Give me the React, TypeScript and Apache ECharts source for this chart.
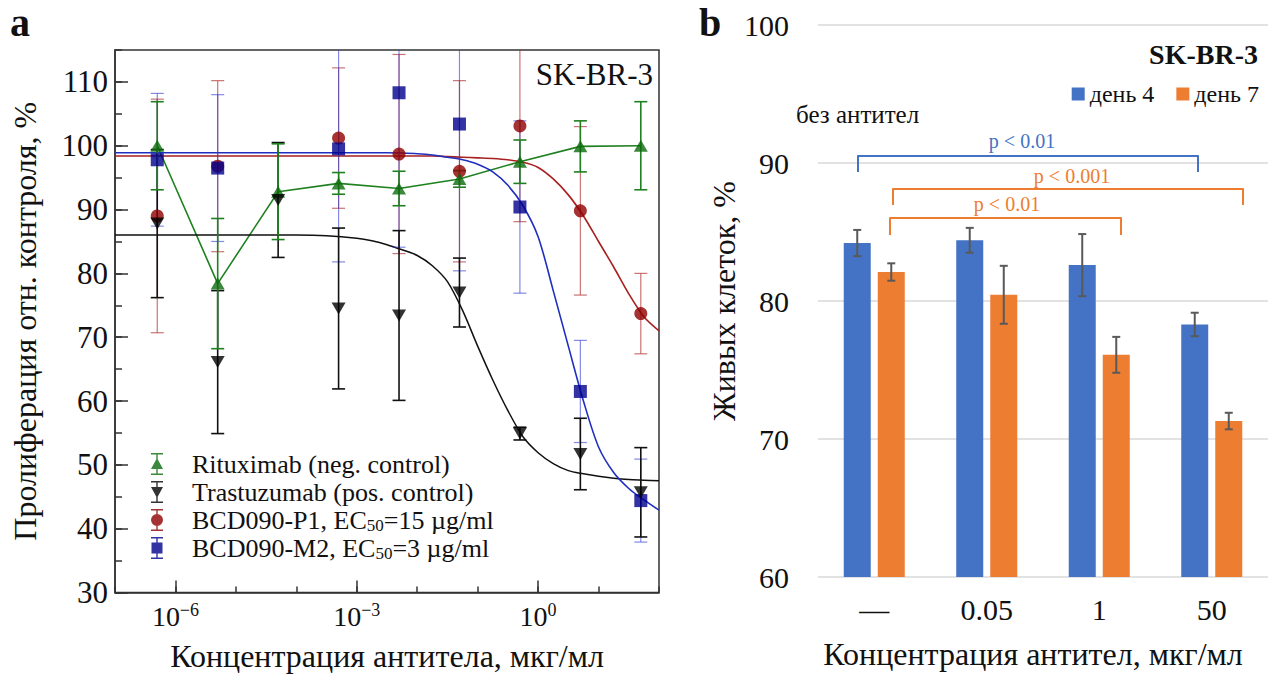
import React, { useEffect, useRef } from 'react';
import * as echarts from 'echarts';

// ---------- Panel a data ----------
const concentrations = [5e-7, 5e-6, 5e-5, 5e-4, 5e-3, 5e-2, 0.5, 5, 50];
const rituximabMean = [100.0, 78.4, 92.8, 94.1, 93.3, 94.8, 97.5, 99.9, 100.0];
const rituximabErr = [6.9, 10.2, 7.5, 1.7, 2.7, 1.3, 3.4, 4.0, 6.9];
const trastuzumabMean = [87.8, 66.1, 91.5, 74.5, 73.4, 77.0, 54.9, 51.7, 45.7];
const trastuzumabErr = [11.6, 11.2, 9.0, 12.6, 13.3, 5.4, 1.0, 5.6, 7.0];
const p1Mean = [89.0, 96.8, null, 101.2, 98.7, 96.0, 103.1, 89.8, 73.7];
const p1Err = [18.3, 13.4, null, 11.0, 15.6, 14.2, 15.0, 13.2, 6.3];
const m2Mean = [97.8, 96.5, null, 99.5, 108.3, 103.4, 90.4, 61.5, 44.4];
const m2Err = [10.4, 11.5, null, 17.7, 24.2, 23.0, 13.5, 8.0, 6.5];

// fitted curves (log10 of concentration, then values)
const fitLog = [
  -7, -6, -5, -4, -3.5, -3, -2.75, -2.5, -2.25, -2, -1.75, -1.5, -1.25,
  -1, -0.75, -0.5, -0.25, 0, 0.25, 0.5, 0.75, 1, 1.25, 1.5, 1.75, 2,
];
const trastuzumabFit = [
  86.0, 86.0, 86.0, 86.0, 85.9, 85.5, 85.1, 84.5, 83.7, 82.8, 81.2, 78.7, 74.2,
  68.6, 63.3, 58.5, 54.4, 51.9, 50.2, 49.1, 48.6, 48.2, 47.9, 47.7, 47.6, 47.5,
];
const p1Fit = [
  98.4, 98.4, 98.4, 98.4, 98.4, 98.4, 98.4, 98.4, 98.4, 98.4, 98.4, 98.3, 98.2,
  98.1, 98.0, 97.8, 97.4, 96.6, 94.8, 92.3, 89.0, 85.0, 81.0, 76.8, 73.2, 71.0,
];
const m2Fit = [
  98.9, 98.9, 98.9, 98.9, 98.9, 98.9, 98.9, 98.9, 98.85, 98.75, 98.55, 98.2, 97.8,
  97.1, 95.9, 93.8, 90.6, 85.75, 77.3, 68.6, 60.0, 52.8, 48.8, 46.3, 44.5, 42.9,
];
const fitConc = fitLog.map((l) => Math.pow(10, l));

const xMajorTicks = [1e-6, 1e-3, 1];

const NAME_R = 'Rituximab (neg. control)';
const NAME_T = 'Trastuzumab (pos. control)';
const NAME_P1 = 'BCD090-P1, EC50=15 µg/ml';
const NAME_M2 = 'BCD090-M2, EC50=3 µg/ml';

// ---------- Panel b data ----------
const bCategories = ['—', '0.05', '1', '50'];
const day4 = [84.2, 84.4, 82.6, 78.3];
const day4Err = [0.95, 0.9, 2.25, 0.85];
const day7 = [82.1, 80.45, 76.1, 71.3];
const day7Err = [0.63, 2.1, 1.3, 0.6];

const SERIF = '"Liberation Serif", "Times New Roman", serif';
const Y_MIN_A = 30;
const Y_MAX_A = 115;

const C_GREEN = '#0b6a0b';
const C_GREEN_LINE = '#1f801f';
const C_RED = '#8e0000';
const C_RED_LINE = '#a82020';
const C_RED_ERR = 'rgba(175,40,40,0.65)';
const C_BLUE = '#00008c';
const C_BLUE_LINE = '#1f2fbf';
const C_BLUE_ERR = 'rgba(50,60,210,0.6)';
const C_DAY4 = '#4472C4';
const C_DAY7 = '#ED7D31';

function pairs(xs: number[], ys: (number | null)[]) {
  const out: number[][] = [];
  xs.forEach((x, i) => {
    const y = ys[i];
    if (y != null) out.push([x, y]);
  });
  return out;
}
function errData(xs: number[], ys: (number | null)[], es: (number | null)[]) {
  const out: number[][] = [];
  xs.forEach((x, i) => {
    const y = ys[i];
    const e = es[i];
    if (y != null && e != null) out.push([x, y - e, y + e]);
  });
  return out;
}

function makeErrorRender(color: string, lineWidth: number, capWidth: number) {
  return (params: any, api: any) => {
    const x = api.value(0);
    const lo = api.value(1);
    const hi = api.value(2);
    const top = api.coord([x, Math.min(hi, Y_MAX_A)]);
    const bot = api.coord([x, Math.max(lo, Y_MIN_A)]);
    const st = { stroke: color, lineWidth };
    const children: any[] = [
      { type: 'line', shape: { x1: top[0], y1: top[1], x2: bot[0], y2: bot[1] }, style: st },
    ];
    if (lo >= Y_MIN_A)
      children.push({ type: 'line', shape: { x1: bot[0] - capWidth / 2, y1: bot[1], x2: bot[0] + capWidth / 2, y2: bot[1] }, style: st });
    if (hi <= Y_MAX_A)
      children.push({ type: 'line', shape: { x1: top[0] - capWidth / 2, y1: top[1], x2: top[0] + capWidth / 2, y2: top[1] }, style: st });
    return { type: 'group', children };
  };
}

const renderBarErr = (params: any, api: any) => {
  const cat = api.value(0);
  const lo = api.value(1);
  const hi = api.value(2);
  const side = api.value(3);
  const band = api.size([1, 0])[0];
  const off = (side * band * 0.24 * 1.26) / 2;
  const t = api.coord([cat, hi]);
  const b = api.coord([cat, lo]);
  const x = t[0] + off;
  const st = { stroke: '#595959', lineWidth: 2 };
  return {
    type: 'group',
    children: [
      { type: 'line', shape: { x1: x, y1: t[1], x2: x, y2: b[1] }, style: st },
      { type: 'line', shape: { x1: x - 4, y1: t[1], x2: x + 4, y2: t[1] }, style: st },
      { type: 'line', shape: { x1: x - 4, y1: b[1], x2: x + 4, y2: b[1] }, style: st },
    ],
  };
};

const legendRich: Record<string, string> = {
  [NAME_R]: `{f|${NAME_R}}`,
  [NAME_T]: `{f|${NAME_T}}`,
  [NAME_P1]: '{f|BCD090-P1, EC}{s|50}{n|=15 µg/ml}',
  [NAME_M2]: '{f|BCD090-M2, EC}{s|50}{n|=3 µg/ml}',
};

const ICON_UP = 'path://M5.3,0h1.4v22h-1.4z M0,0h12v1.5h-12z M0,20.5h12v1.5h-12z M0,16L6,5L12,16z';
const ICON_DOWN = 'path://M5.3,0h1.4v22h-1.4z M0,0h12v1.5h-12z M0,20.5h12v1.5h-12z M0,6L12,6L6,17z';
const ICON_CIRCLE = 'path://M5.3,0h1.4v22h-1.4z M0,0h12v1.5h-12z M0,20.5h12v1.5h-12z M0,11A6,6 0 1,1 12,11A6,6 0 1,1 0,11z';
const ICON_SQUARE = 'path://M5.3,0h1.4v22h-1.4z M0,0h12v1.5h-12z M0,20.5h12v1.5h-12z M0.5,5.5h11v11h-11z';

function bracket(x1: number, x2: number, yH: number, yLeg: number, color: string) {
  return {
    type: 'polyline',
    shape: { points: [[x1, yLeg], [x1, yH], [x2, yH], [x2, yLeg]] },
    style: { stroke: color, lineWidth: 2, fill: 'none', lineJoin: 'round' },
    z: 10,
  };
}
function gText(text: string, x: number, y: number, size: number, opts: any = {}) {
  return {
    type: 'text',
    x,
    y,
    z: 10,
    style: {
      text,
      fontSize: size,
      fontFamily: SERIF,
      fill: opts.fill || '#111',
      fontWeight: opts.bold ? 'bold' : 'normal',
      align: opts.align || 'left',
      verticalAlign: 'middle',
    },
  };
}

const axisFont = { fontFamily: SERIF, color: '#111' };

const option: any = {
  animation: false,
  backgroundColor: '#ffffff',
  grid: [
    { left: 115, top: 50, width: 544, height: 542.5, show: true, borderColor: '#333', borderWidth: 1.5, backgroundColor: 'transparent' },
    { left: 818, top: 25, width: 450, height: 552, show: false },
  ],
  xAxis: [
    {
      type: 'log', gridIndex: 0, logBase: 10, min: 1e-7, max: 100, position: 'bottom',
      name: 'Концентрация антитела, мкг/мл', nameLocation: 'middle', nameGap: 47,
      nameTextStyle: { ...axisFont, fontSize: 32 },
      axisLine: { show: true, lineStyle: { color: '#333', width: 1.5 } },
      axisTick: { show: true, inside: true, length: 6, lineStyle: { color: '#333', width: 1.5 } },
      splitLine: { show: false },
      minorTick: { show: false },
      axisLabel: {
        margin: 8,
        ...axisFont,
        fontSize: 28,
        formatter: (v: number) => {
          const e = Math.round(Math.log10(v));
          if (e % 3 !== 0) return '';
          const s = e < 0 ? '−' + -e : String(e);
          return `{b|10}{s|${s}}`;
        },
        rich: {
          b: { ...axisFont, fontSize: 28, lineHeight: 32 },
          s: { ...axisFont, fontSize: 18, lineHeight: 14, verticalAlign: 'top' },
        },
      },
    },
    {
      type: 'log', gridIndex: 0, logBase: 10, min: 1e-7, max: 100, position: 'bottom',
      axisLine: { show: false },
      axisTick: { show: true, inside: true, length: 12, customValues: xMajorTicks, lineStyle: { color: '#333', width: 1.5 } },
      axisLabel: { show: false },
      splitLine: { show: false },
    },
    {
      type: 'category', gridIndex: 1, data: bCategories,
      name: 'Концентрация антител, мкг/мл', nameLocation: 'middle', nameGap: 61,
      nameTextStyle: { ...axisFont, fontSize: 32, padding: [0, 20, 0, 0] },
      axisLine: { show: false },
      axisTick: { show: false },
      axisLabel: { ...axisFont, fontSize: 30, margin: 17 },
    },
  ],
  yAxis: [
    {
      type: 'value', gridIndex: 0, min: Y_MIN_A, max: Y_MAX_A, interval: 10, position: 'left',
      name: 'Пролиферация отн. контроля, %', nameLocation: 'middle', nameGap: 74,
      nameTextStyle: { ...axisFont, fontSize: 32 },
      axisLine: { show: true, lineStyle: { color: '#333', width: 1.5 } },
      axisTick: { show: true, inside: true, length: 13, lineStyle: { color: '#333', width: 1.5 } },
      splitLine: { show: false },
      axisLabel: {
        ...axisFont, fontSize: 31, margin: 7, showMaxLabel: false,
        formatter: (v: number) => (v > 110 ? '' : String(v)),
      },
    },
    {
      type: 'value', gridIndex: 0, min: Y_MIN_A, max: Y_MAX_A, interval: 5, position: 'left',
      axisLine: { show: false },
      axisTick: { show: true, inside: true, length: 7, lineStyle: { color: '#333', width: 1.5 } },
      axisLabel: { show: false },
      splitLine: { show: false },
    },
    {
      type: 'value', gridIndex: 1, min: 60, max: 100, interval: 10,
      name: 'Живых клеток, %', nameLocation: 'middle', nameGap: 72,
      nameTextStyle: { ...axisFont, fontSize: 32 },
      axisLine: { show: false },
      axisTick: { show: false },
      splitLine: { show: true, lineStyle: { color: '#d9d9d9', width: 1.5 } },
      axisLabel: { ...axisFont, fontSize: 30, margin: 29 },
    },
  ],
  legend: [
    {
      orient: 'vertical', left: 146, top: 445, itemGap: 0, itemWidth: 12, itemHeight: 22,
      symbolRotate: 0,
      data: [
        { name: NAME_R, icon: ICON_UP },
        { name: NAME_T, icon: ICON_DOWN },
        { name: NAME_P1, icon: ICON_CIRCLE },
        { name: NAME_M2, icon: ICON_SQUARE },
      ],
      formatter: (name: string) => legendRich[name] || `{f|${name}}`,
      textStyle: {
        ...axisFont, fontSize: 26, lineHeight: 28,
        rich: {
          f: { ...axisFont, fontSize: 26, lineHeight: 28, padding: [0, 0, 0, 24] },
          n: { ...axisFont, fontSize: 26, lineHeight: 28 },
          s: { ...axisFont, fontSize: 17, lineHeight: 12, verticalAlign: 'bottom' },
        },
      },
    },
    {
      orient: 'horizontal', right: 14, top: 77, itemGap: 22, itemWidth: 13, itemHeight: 13,
      icon: 'rect',
      data: ['день 4', 'день 7'],
      textStyle: { ...axisFont, fontSize: 24 },
    },
  ],
  graphic: [
    gText('a', 10, 22, 40, { bold: true }),
    gText('b', 699, 22, 40, { bold: true }),
    gText('SK-BR-3', 653, 74, 31, { align: 'right' }),
    gText('SK-BR-3', 1258, 54, 28, { align: 'right', bold: true }),
    gText('без антител', 796, 114, 25),
    bracket(858, 1198, 156, 172, C_DAY4),
    gText('p < 0.01', 1022, 141, 20, { align: 'center', fill: C_DAY4 }),
    bracket(893, 1243, 189, 205, C_DAY7),
    gText('p < 0.001', 1072, 176, 20, { align: 'center', fill: C_DAY7 }),
    bracket(890, 1121, 218, 235, C_DAY7),
    gText('p < 0.01', 1007, 204, 20, { align: 'center', fill: C_DAY7 }),
  ],
  series: [
    // markers (first, so the legend takes its icon colour from them)
    {
      name: NAME_R, type: 'scatter', xAxisIndex: 0, yAxisIndex: 0, z: 6,
      symbol: 'triangle', symbolSize: [14, 12],
      itemStyle: { color: C_GREEN },
      data: pairs(concentrations, rituximabMean),
    },
    {
      name: NAME_T, type: 'scatter', xAxisIndex: 0, yAxisIndex: 0, z: 6,
      symbol: 'path://M0,0L14,0L7,12z', symbolSize: [14, 12],
      itemStyle: { color: '#000' },
      data: pairs(concentrations, trastuzumabMean),
    },
    {
      name: NAME_P1, type: 'scatter', xAxisIndex: 0, yAxisIndex: 0, z: 5,
      symbol: 'circle', symbolSize: 13,
      itemStyle: { color: C_RED },
      data: pairs(concentrations, p1Mean),
    },
    {
      name: NAME_M2, type: 'scatter', xAxisIndex: 0, yAxisIndex: 0, z: 5,
      symbol: 'rect', symbolSize: 13,
      itemStyle: { color: C_BLUE },
      data: pairs(concentrations, m2Mean),
    },
    // connecting line for Rituximab
    {
      name: NAME_R, type: 'line', xAxisIndex: 0, yAxisIndex: 0, z: 2,
      showSymbol: false, symbol: 'none',
      lineStyle: { color: C_GREEN_LINE, width: 1.6 },
      itemStyle: { color: C_GREEN },
      data: pairs(concentrations, rituximabMean),
    },
    // fitted curves
    {
      name: NAME_T, type: 'line', xAxisIndex: 0, yAxisIndex: 0, z: 2,
      showSymbol: false, symbol: 'none', smooth: 0.3,
      lineStyle: { color: '#111', width: 1.5 },
      data: pairs(fitConc, trastuzumabFit),
    },
    {
      name: NAME_P1, type: 'line', xAxisIndex: 0, yAxisIndex: 0, z: 2,
      showSymbol: false, symbol: 'none', smooth: 0.3,
      lineStyle: { color: C_RED_LINE, width: 1.6 },
      data: pairs(fitConc, p1Fit),
    },
    {
      name: NAME_M2, type: 'line', xAxisIndex: 0, yAxisIndex: 0, z: 2,
      showSymbol: false, symbol: 'none', smooth: 0.3,
      lineStyle: { color: C_BLUE_LINE, width: 1.6 },
      data: pairs(fitConc, m2Fit),
    },
    // error bars
    {
      name: NAME_P1, type: 'custom', xAxisIndex: 0, yAxisIndex: 0, z: 3,
      renderItem: makeErrorRender(C_RED_ERR, 1.2, 13),
      encode: { x: 0, y: [1, 2] },
      data: errData(concentrations, p1Mean, p1Err),
    },
    {
      name: NAME_M2, type: 'custom', xAxisIndex: 0, yAxisIndex: 0, z: 3,
      renderItem: makeErrorRender(C_BLUE_ERR, 1.2, 13),
      encode: { x: 0, y: [1, 2] },
      data: errData(concentrations, m2Mean, m2Err),
    },
    {
      name: NAME_T, type: 'custom', xAxisIndex: 0, yAxisIndex: 0, z: 4,
      renderItem: makeErrorRender('#111', 1.6, 13),
      encode: { x: 0, y: [1, 2] },
      data: errData(concentrations, trastuzumabMean, trastuzumabErr),
    },
    {
      name: NAME_R, type: 'custom', xAxisIndex: 0, yAxisIndex: 0, z: 4,
      renderItem: makeErrorRender(C_GREEN_LINE, 1.6, 13),
      encode: { x: 0, y: [1, 2] },
      data: errData(concentrations, rituximabMean, rituximabErr),
    },
    // panel b
    {
      name: 'день 4', type: 'bar', xAxisIndex: 2, yAxisIndex: 2,
      barWidth: '24%', barGap: '26%',
      itemStyle: { color: C_DAY4 },
      data: day4,
    },
    {
      name: 'день 7', type: 'bar', xAxisIndex: 2, yAxisIndex: 2,
      barWidth: '24%', barGap: '26%',
      itemStyle: { color: C_DAY7 },
      data: day7,
    },
    {
      name: 'errors b', type: 'custom', xAxisIndex: 2, yAxisIndex: 2, z: 5,
      renderItem: renderBarErr,
      encode: { x: 0, y: [1, 2] },
      data: [
        ...day4.map((v, i) => [i, v - day4Err[i], v + day4Err[i], -1]),
        ...day7.map((v, i) => [i, v - day7Err[i], v + day7Err[i], 1]),
      ],
    },
  ],
};

export default function App() {
  const ref = useRef<HTMLDivElement>(null);
  useEffect(() => {
    if (!ref.current) return;
    const chart = echarts.init(ref.current, null, { renderer: 'svg' });
    chart.setOption(option);
    return () => chart.dispose();
  }, []);
  return (
    <div
      ref={ref}
      style={{ position: 'fixed', left: 0, top: 0, width: 1278, height: 680, background: '#fff' }}
    />
  );
}
